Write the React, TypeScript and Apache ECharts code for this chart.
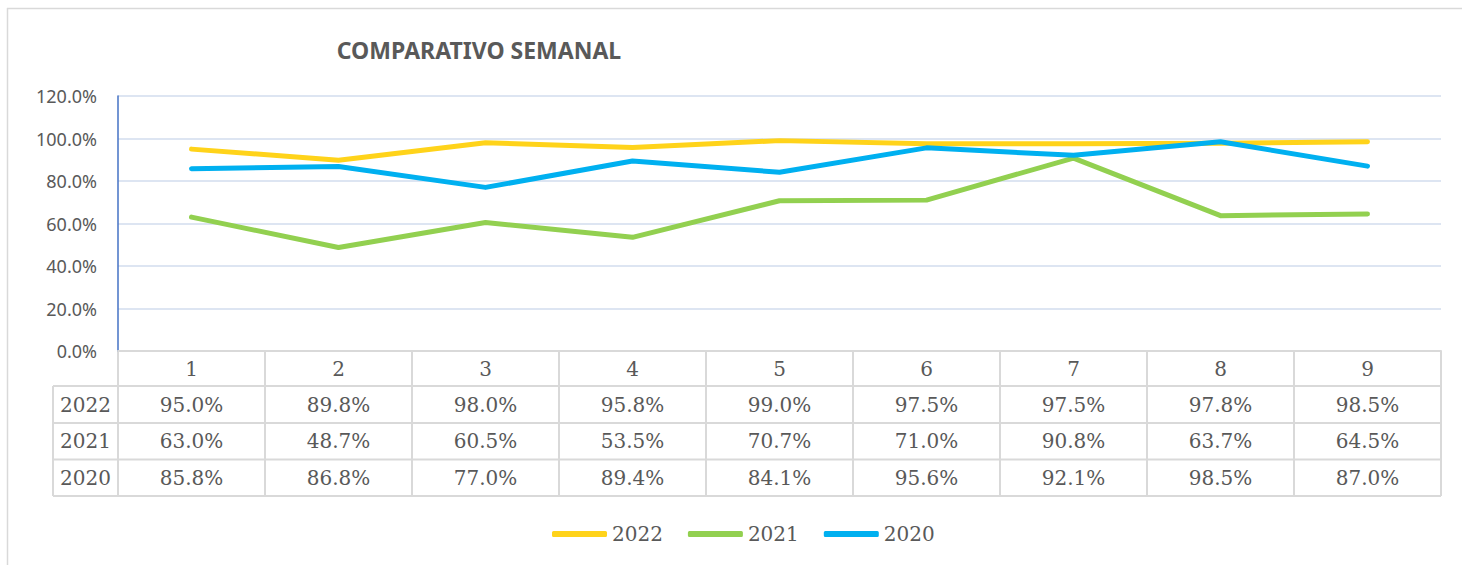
import React, { useEffect, useRef } from "react";
import * as echarts from "echarts";

const weeks = ["1", "2", "3", "4", "5", "6", "7", "8", "9"];
const years = ["2022", "2021", "2020"];
const values2022 = [95.0, 89.8, 98.0, 95.8, 99.0, 97.5, 97.5, 97.8, 98.5];
const values2021 = [63.0, 48.7, 60.5, 53.5, 70.7, 71.0, 90.8, 63.7, 64.5];
const values2020 = [85.8, 86.8, 77.0, 89.4, 84.1, 95.6, 92.1, 98.5, 87.0];
const seriesValues = [values2022, values2021, values2020];
const colors = ["#FFD31A", "#92D050", "#00B0F0"];
const title = "COMPARATIVO SEMANAL";

const W = 1462;
const H = 565;
const gridLeft = 118;
const gridRight = 21;
const gridTop = 96;
const gridBottomY = 351;
const tableLines = [386, 423, 459.5, 496];
const headerCenterY = 368.5;
const rowCenters = [404.5, 441, 478];
const rowLabelLeft = 53;
const gray = "#D9D9D9";
const textColor = "#595959";
const serif = "'DejaVu Serif', serif";

export default function App() {
  const ref = useRef<HTMLDivElement>(null);

  useEffect(() => {
    document.body.style.margin = "0";
    if (!ref.current) return;
    const chart = echarts.init(ref.current, null, { renderer: "svg" });
    chart.setOption({
      animation: false,
      backgroundColor: "#ffffff",
      title: {
        text: title,
        left: 474,
        top: 33,
        textAlign: "center",
        textStyle: {
          fontFamily: "'Noto Sans', sans-serif",
          fontWeight: "bold",
          fontSize: 23,
          color: textColor,
        },
      },
      legend: {
        bottom: 16,
        left: 547,
        icon: "roundRect",
        itemWidth: 55,
        itemHeight: 6,
        itemGap: 25,
        textStyle: { fontFamily: serif, fontSize: 20, color: textColor },
        data: years,
      },
      grid: {
        left: gridLeft,
        right: gridRight,
        top: gridTop,
        bottom: H - gridBottomY,
      },
      xAxis: {
        type: "category",
        data: weeks,
        boundaryGap: true,
        axisLine: { show: true, lineStyle: { color: gray, width: 2 } },
        axisTick: { show: false },
        axisLabel: { show: false },
        splitLine: { show: false },
      },
      yAxis: {
        type: "value",
        min: 0,
        max: 120,
        interval: 20,
        axisLine: { show: true, lineStyle: { color: "#4472C4", width: 1.5 } },
        axisTick: { show: false },
        axisLabel: {
          margin: 21,
          fontFamily: "'Noto Sans', sans-serif",
          fontSize: 18,
          color: textColor,
          formatter: (v: number) => v.toFixed(1) + "%",
        },
        splitLine: { lineStyle: { color: "#D2DCEE", width: 1.5 } },
      },
      series: years.map((y, i) => ({
        name: y,
        type: "line",
        data: seriesValues[i],
        symbol: "none",
        itemStyle: { color: colors[i] },
        lineStyle: { color: colors[i], width: 5, cap: "round", join: "round" },
        z: 2 + i,
      })),
    });

    const xs = weeks.map((_, i) => chart.convertToPixel({ xAxisIndex: 0 }, i) as number);
    const band = xs.length > 1 ? xs[1] - xs[0] : 100;
    const leftEdge = xs[0] - band / 2;
    const rightEdge = xs[xs.length - 1] + band / 2;
    const lineStyle = { stroke: gray, lineWidth: 2 };
    const elements: any[] = [];

    // outer frame (top & left visible)
    elements.push({ type: "line", shape: { x1: 7, y1: 8.5, x2: W, y2: 8.5 }, style: { stroke: gray, lineWidth: 1.5 } });
    elements.push({ type: "line", shape: { x1: 7.5, y1: 8, x2: 7.5, y2: H }, style: { stroke: gray, lineWidth: 1.5 } });

    // horizontal table lines
    tableLines.forEach((y) => {
      elements.push({ type: "line", shape: { x1: rowLabelLeft, y1: y, x2: rightEdge, y2: y }, style: lineStyle });
    });
    // vertical lines
    elements.push({ type: "line", shape: { x1: rowLabelLeft, y1: tableLines[0], x2: rowLabelLeft, y2: tableLines[tableLines.length - 1] }, style: lineStyle });
    for (let i = 0; i <= weeks.length; i++) {
      const x = leftEdge + band * i;
      elements.push({ type: "line", shape: { x1: x, y1: gridBottomY, x2: x, y2: tableLines[tableLines.length - 1] }, style: lineStyle });
    }
    // header
    weeks.forEach((w, i) => {
      elements.push({
        type: "text",
        x: xs[i],
        y: headerCenterY,
        style: { text: w, fontFamily: serif, fontSize: 20, fill: textColor, align: "center", verticalAlign: "middle" },
      });
    });
    // rows
    years.forEach((yr, r) => {
      elements.push({
        type: "text",
        x: (rowLabelLeft + leftEdge) / 2,
        y: rowCenters[r],
        style: { text: yr, fontFamily: serif, fontSize: 20, fill: textColor, align: "center", verticalAlign: "middle" },
      });
      seriesValues[r].forEach((v, i) => {
        elements.push({
          type: "text",
          x: xs[i],
          y: rowCenters[r],
          style: { text: v.toFixed(1) + "%", fontFamily: serif, fontSize: 20, fill: textColor, align: "center", verticalAlign: "middle" },
        });
      });
    });

    chart.setOption({ graphic: { elements } });

    return () => chart.dispose();
  }, []);

  return <div ref={ref} style={{ width: W, height: H }} />;
}
